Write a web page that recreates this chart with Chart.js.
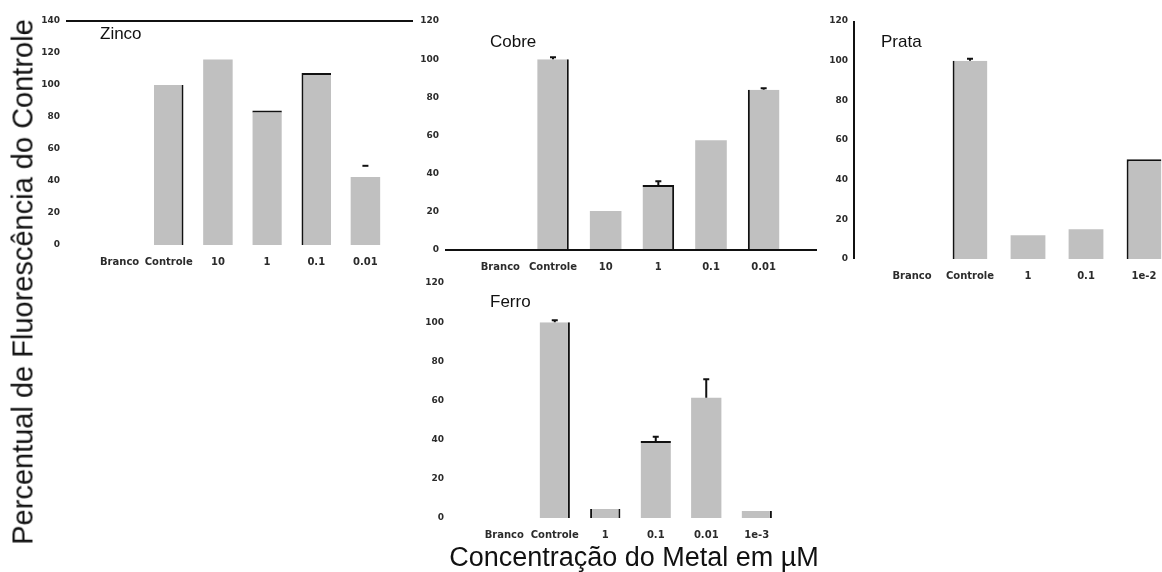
<!DOCTYPE html>
<html lang="pt">
<head>
<meta charset="utf-8">
<title>Percentual de Fluorescência do Controle</title>
<script src="https://cdn.jsdelivr.net/npm/chart.js@4.4.1/dist/chart.umd.min.js"></script>
<style>
    html, body { margin: 0; padding: 0; background: #fff; overflow: hidden; }
    body { width: 1162px; height: 572px; position: relative; font-family: "Liberation Sans", Arial, sans-serif; color: #111; }
    canvas { position: absolute; }
    .panel-name { position: absolute; font-size: 17px; line-height: 17px; white-space: nowrap; }
    .axis-title { position: absolute; line-height: 1; white-space: nowrap; }
    #yTitle { font-size: 29px; left: 23px; top: 282px; transform: translate(-50%, -50%) rotate(-90deg); }
    #xTitle { font-size: 27px; left: 634px; top: 544px; transform: translateX(-50%); }
</style>
</head>
<body>
<canvas id="zincoChart"></canvas>
<canvas id="cobreChart"></canvas>
<canvas id="prataChart"></canvas>
<canvas id="ferroChart"></canvas>

<div class="panel-name" style="left:100px; top:25px;">Zinco</div>
<div class="panel-name" style="left:490px; top:33px;">Cobre</div>
<div class="panel-name" style="left:881px; top:33px;">Prata</div>
<div class="panel-name" style="left:490px; top:293px;">Ferro</div>

<div class="axis-title" id="yTitle">Percentual de Fluorescência do Controle</div>
<div class="axis-title" id="xTitle">Concentração do Metal em µM</div>

<script>
"use strict";

// valores (% do controle)
const zincoLabels = ["Branco", "Controle", "10", "1", "0.1", "0.01"];
const zincoValues = [0, 100, 116, 84, 107.5, 42.5];
const zincoErrors = [0, 0, 0, 0, 0, 7];

const cobreLabels = ["Branco", "Controle", "10", "1", "0.1", "0.01"];
const cobreValues = [0, 100, 20.4, 34, 57.5, 84];
const cobreErrors = [0, 1, 0, 2, 0, 0.7];

const prataLabels = ["Branco", "Controle", "1", "0.1", "1e-2"];
const prataValues = [0, 100, 12, 15, 50.3];
const prataErrors = [0, 1, 0, 0, 0];

const ferroLabels = ["Branco", "Controle", "1", "0.1", "0.01", "1e-3"];
const ferroValues = [0, 100, 4.6, 39.3, 61.4, 3.6];
const ferroErrors = [0, 1, 0, 2.2, 9.4, 0];

const barGray = "#c0c0c0";
const inkColor = "#111";
const tickColor = "#2b2b2b";
const tickFamily = "'DejaVu Sans', sans-serif";

// the y tick padding is also added above/below the axis by chart.js,
// so the top padding and the x axis height must be at least that big
const yAxisWidth = 70;
const padTop = 44;
const padRight = 30;
const xAxisHeight = 44;

const panels = [
    {
        canvas: "zincoChart", labels: zincoLabels, values: zincoValues, errors: zincoErrors, yMax: 140,
        area: { left: 95, right: 390, top: 21, bottom: 245 },
        edges: ["", "r", "", "t", "lt", ""],
        frame: { edge: "top", before: 29, after: 23 },
        stem: false
    },
    {
        canvas: "cobreChart", labels: cobreLabels, values: cobreValues, errors: cobreErrors, yMax: 120,
        area: { left: 474, right: 790, top: 21, bottom: 250 },
        edges: ["", "r", "", "tr", "", "l"],
        frame: { edge: "bottom", before: 29, after: 27 },
        stem: true
    },
    {
        canvas: "prataChart", labels: prataLabels, values: prataValues, errors: prataErrors, yMax: 120,
        area: { left: 883, right: 1173, top: 21, bottom: 259 },
        edges: ["", "l", "", "", "lt"],
        frame: { edge: "left", before: 29, after: 0 },
        stem: true
    },
    {
        canvas: "ferroChart", labels: ferroLabels, values: ferroValues, errors: ferroErrors, yMax: 120,
        area: { left: 479, right: 782, top: 283, bottom: 518 },
        edges: ["", "r", "lr", "t", "", "r"],
        frame: null,
        stem: true
    }
];

function edgeWidths(edges) {
    return edges.map((e) => ({
        top: e.includes("t") ? 2 : 0,
        right: e.includes("r") ? 2 : 0,
        bottom: 0,
        left: e.includes("l") ? 2 : 0
    }));
}

function decorPlugin(panel) {
    return {
        id: "panelDecor",
        afterDatasetsDraw(chart) {
            const { ctx, chartArea: area, scales } = chart;
            const bars = chart.getDatasetMeta(0).data;

            ctx.save();
            ctx.strokeStyle = inkColor;
            ctx.lineWidth = 2;

            panel.errors.forEach((err, i) => {
                if (!err) return;
                const x = bars[i].x;
                const y0 = scales.y.getPixelForValue(panel.values[i]);
                const y1 = scales.y.getPixelForValue(panel.values[i] + err);
                ctx.beginPath();
                if (panel.stem) {
                    ctx.moveTo(x, y0);
                    ctx.lineTo(x, y1);
                }
                ctx.moveTo(x - 3, y1);
                ctx.lineTo(x + 3, y1);
                ctx.stroke();
            });

            const f = panel.frame;
            if (f) {
                ctx.beginPath();
                if (f.edge === "left") {
                    ctx.moveTo(area.left - f.before, area.top);
                    ctx.lineTo(area.left - f.before, area.bottom);
                } else {
                    const y = f.edge === "top" ? area.top : area.bottom;
                    ctx.moveTo(area.left - f.before, y);
                    ctx.lineTo(area.right + f.after, y);
                }
                ctx.stroke();
            }
            ctx.restore();
        }
    };
}

function renderPanel(panel) {
    const { area } = panel;
    const canvas = document.getElementById(panel.canvas);
    const width = area.right - area.left + yAxisWidth + padRight;
    const height = area.bottom - area.top + padTop + xAxisHeight;

    canvas.width = width;
    canvas.height = height;
    canvas.style.width = width + "px";
    canvas.style.height = height + "px";
    canvas.style.left = (area.left - yAxisWidth) + "px";
    canvas.style.top = (area.top - padTop) + "px";

    const widths = edgeWidths(panel.edges);

    return new Chart(canvas, {
        type: "bar",
        data: {
            labels: panel.labels,
            datasets: [{
                data: panel.values,
                backgroundColor: barGray,
                borderColor: inkColor,
                borderWidth: (c) => widths[c.dataIndex],
                barPercentage: 0.6,
                categoryPercentage: 1
            }]
        },
        plugins: [decorPlugin(panel)],
        options: {
            responsive: false,
            animation: false,
            devicePixelRatio: 1,
            layout: { padding: { top: padTop, right: padRight, left: 0, bottom: 0 } },
            plugins: {
                legend: { display: false },
                tooltip: { enabled: false }
            },
            scales: {
                x: {
                    grid: { display: false, drawTicks: false },
                    border: { display: false },
                    ticks: {
                        autoSkip: false, maxRotation: 0, minRotation: 0, padding: 11,
                        color: tickColor, font: { family: tickFamily, weight: "bold", size: 10 }
                    },
                    afterFit: (scale) => { scale.height = xAxisHeight; }
                },
                y: {
                    min: 0,
                    max: panel.yMax,
                    grid: { display: false, drawTicks: false },
                    border: { display: false },
                    ticks: {
                        stepSize: 20, padding: 35,
                        color: tickColor, font: { family: tickFamily, weight: "bold", size: 9 }
                    },
                    afterFit: (scale) => { scale.width = yAxisWidth; }
                }
            }
        }
    });
}

panels.forEach(renderPanel);
</script>
</body>
</html>
